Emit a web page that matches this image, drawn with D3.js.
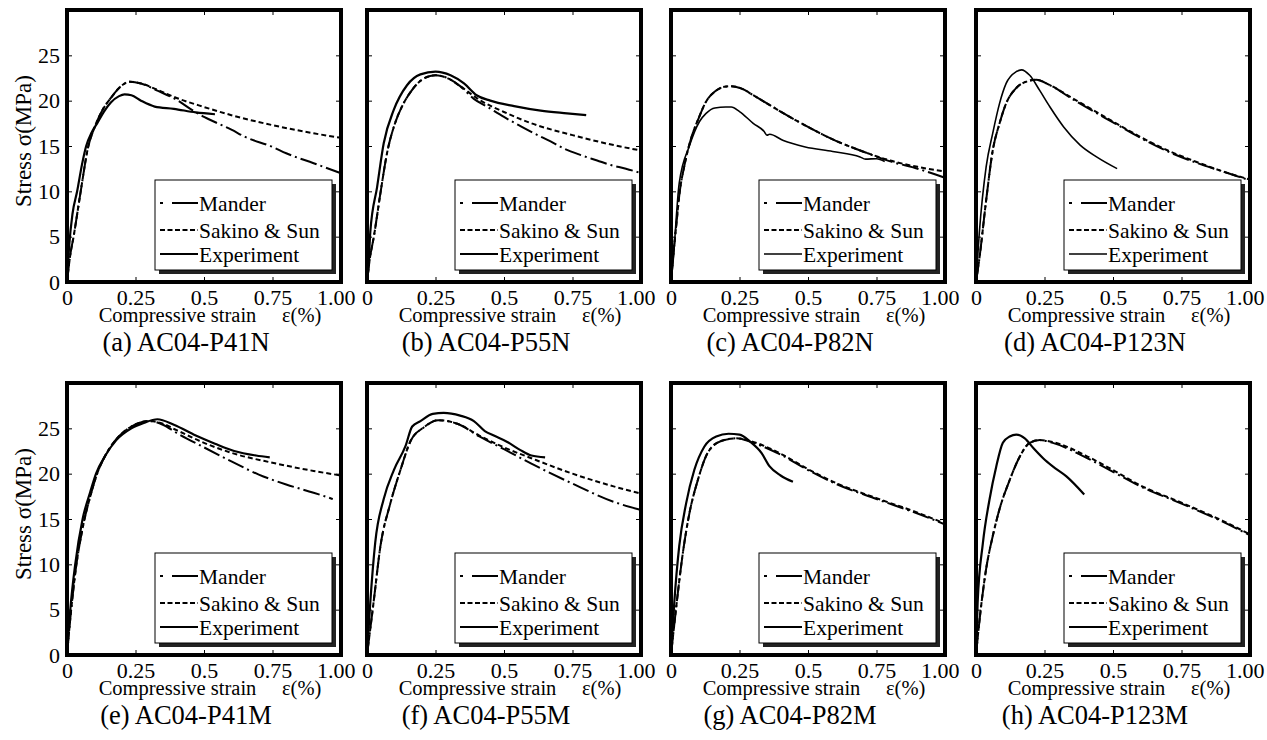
<!DOCTYPE html>
<html>
<head>
<meta charset="utf-8">
<script src="https://cdn.jsdelivr.net/npm/d3@7"></script>
<style>
  body { margin: 0; background: #fff; }
  text { font-family: "Liberation Serif", "Times New Roman", serif; fill: #000; }
</style>
</head>
<body>
<div id="chart"></div>
<script>
// strain (%) , stress (MPa) pairs
const expA = [[0,0],[0.008,4],[0.02,7.5],[0.037,10],[0.055,13],[0.07,15],[0.09,16.5],[0.11,17.5],[0.135,18.8],[0.16,19.8],[0.19,20.5],[0.21,20.7],[0.235,20.6],[0.27,20.0],[0.32,19.35],[0.39,19.1],[0.47,18.7],[0.54,18.5]];
const sakinoA = [[0,0],[0.012,3],[0.024,5],[0.05,10],[0.078,15],[0.1,17],[0.13,19],[0.16,20.3],[0.19,21.4],[0.23,22.1],[0.27,21.9],[0.33,21.2],[0.4,20.3],[0.5,19.3],[0.6,18.4],[0.75,17.3],[0.9,16.4],[1.0,15.9]];
const manderA = [[0,0],[0.012,3],[0.024,5],[0.05,10],[0.078,15],[0.1,17],[0.13,19],[0.16,20.3],[0.19,21.4],[0.23,22.1],[0.27,21.9],[0.33,21.1],[0.4,20.1],[0.45,19.1],[0.5,18.2],[0.55,17.5],[0.6,16.8],[0.65,16.0],[0.75,14.9],[0.8,14.2],[0.9,13.1],[1.0,12.0]];

const expB = [[0,0],[0.006,2],[0.012,5.5],[0.037,10.5],[0.061,15.3],[0.098,19],[0.146,21.7],[0.195,22.9],[0.25,23.2],[0.305,22.8],[0.354,21.9],[0.4,20.6],[0.45,20.0],[0.537,19.4],[0.634,18.9],[0.73,18.6],[0.8,18.4]];
const sakinoB = [[0,0],[0.01,2.5],[0.025,5],[0.05,10],[0.075,14.5],[0.1,17.3],[0.13,19.5],[0.16,21],[0.2,22.3],[0.25,22.8],[0.3,22.4],[0.34,21.6],[0.415,20.0],[0.5,18.75],[0.6,17.5],[0.75,16.2],[0.9,15.1],[1.0,14.5]];
const manderB = [[0,0],[0.01,2.5],[0.025,5],[0.05,10],[0.075,14.5],[0.1,17.3],[0.13,19.5],[0.16,21],[0.2,22.3],[0.25,22.8],[0.3,22.4],[0.34,21.6],[0.39,20.2],[0.44,19.3],[0.5,18.2],[0.56,17.2],[0.61,16.4],[0.67,15.5],[0.72,14.7],[0.78,14.0],[0.84,13.4],[0.89,12.9],[0.945,12.5],[1.0,12.0]];

const expC = [[0,0],[0.006,1.7],[0.03,10.9],[0.067,15],[0.104,17.7],[0.128,18.6],[0.16,19.2],[0.2,19.3],[0.22,19.3],[0.25,18.8],[0.3,17.5],[0.34,16.6],[0.35,16.2],[0.36,16.3],[0.41,15.6],[0.49,14.9],[0.59,14.4],[0.69,13.8],[0.71,13.55],[0.75,13.6],[0.78,13.3]];
const sakinoC = [[0,0],[0.01,3.5],[0.02,6.5],[0.03,9.5],[0.05,13],[0.075,16],[0.1,18],[0.13,20],[0.16,21],[0.19,21.5],[0.22,21.6],[0.26,21.3],[0.3,20.6],[0.4,18.8],[0.5,17.1],[0.6,15.6],[0.7,14.4],[0.8,13.4],[0.9,12.7],[1.0,12.2]];
const manderC = [[0,0],[0.01,3.5],[0.02,6.5],[0.03,9.5],[0.05,13],[0.075,16],[0.1,18],[0.13,20],[0.16,21],[0.19,21.5],[0.22,21.6],[0.26,21.3],[0.3,20.6],[0.4,18.8],[0.5,17.1],[0.6,15.6],[0.7,14.4],[0.8,13.3],[0.9,12.5],[1.0,11.5]];

const expD = [[0,0],[0.012,5.4],[0.037,12.7],[0.061,16.4],[0.086,19.7],[0.11,21.9],[0.147,23.2],[0.166,23.4],[0.196,22.8],[0.233,21.1],[0.27,19.3],[0.32,17.1],[0.38,15.1],[0.44,13.8],[0.515,12.5]];
const sakinoD = [[0,0],[0.012,2.5],[0.037,9],[0.061,14.5],[0.086,17.5],[0.11,19.7],[0.147,21.4],[0.184,22.1],[0.22,22.3],[0.27,21.7],[0.356,20.2],[0.5,17.7],[0.6,16.0],[0.7,14.5],[0.8,13.3],[0.9,12.2],[1.0,11.3]];
const manderD = [[0,0],[0.012,2.5],[0.037,9],[0.061,14.5],[0.086,17.5],[0.11,19.7],[0.147,21.4],[0.184,22.1],[0.22,22.3],[0.27,21.7],[0.356,20.1],[0.5,17.6],[0.6,15.9],[0.7,14.4],[0.8,13.2],[0.9,12.2],[1.0,11.2]];

const expE = [[0,0],[0.012,5],[0.03,10],[0.057,15],[0.085,18],[0.106,20],[0.14,22],[0.18,23.7],[0.235,25],[0.28,25.6],[0.33,26.0],[0.39,25.4],[0.47,24.2],[0.54,23.3],[0.61,22.5],[0.69,22.0],[0.74,21.8]];
const sakinoE = [[0,0],[0.012,4],[0.03,9],[0.057,14],[0.085,17.5],[0.11,20],[0.14,22],[0.18,23.8],[0.235,25.2],[0.3,25.8],[0.35,25.5],[0.4,24.8],[0.5,23.4],[0.6,22.3],[0.75,21.2],[0.9,20.3],[1.0,19.8]];
const manderE = [[0,0],[0.012,4],[0.03,9],[0.057,14],[0.085,17.5],[0.11,20],[0.14,22],[0.18,23.8],[0.235,25.2],[0.3,25.8],[0.35,25.4],[0.4,24.5],[0.5,22.9],[0.6,21.35],[0.7,19.9],[0.8,18.8],[0.9,17.9],[0.97,17.2]];

const expF = [[0,0],[0.012,5.8],[0.03,12.4],[0.061,17.2],[0.098,20.4],[0.14,23],[0.165,25.2],[0.195,25.8],[0.24,26.6],[0.28,26.7],[0.34,26.4],[0.39,25.8],[0.43,24.7],[0.463,24.2],[0.512,23.5],[0.56,22.6],[0.6,22.0],[0.65,21.8]];
const sakinoF = [[0,0],[0.024,5.8],[0.049,12],[0.085,16.7],[0.122,20.4],[0.159,23.6],[0.207,25.1],[0.26,25.9],[0.33,25.5],[0.41,24.2],[0.5,22.9],[0.6,21.7],[0.75,20.0],[0.9,18.6],[1.0,17.8]];
const manderF = [[0,0],[0.024,5.8],[0.049,12],[0.085,16.7],[0.122,20.4],[0.159,23.6],[0.207,25.1],[0.26,25.9],[0.33,25.5],[0.41,24.1],[0.5,22.7],[0.6,21.1],[0.75,18.9],[0.9,16.9],[1.0,16.0]];

const expG = [[0,0],[0.012,5.8],[0.03,12],[0.055,16.7],[0.085,20.4],[0.122,23],[0.165,24.1],[0.21,24.4],[0.25,24.3],[0.29,23.5],[0.33,22.3],[0.36,20.8],[0.4,19.8],[0.445,19.1]];
const sakinoG = [[0,0],[0.018,5],[0.043,11.2],[0.067,15.6],[0.098,19.3],[0.134,22.3],[0.183,23.6],[0.24,23.9],[0.3,23.5],[0.4,22.2],[0.5,20.5],[0.6,19.0],[0.75,17.3],[0.9,15.7],[1.0,14.5]];
const manderG = [[0,0],[0.018,5],[0.043,11.2],[0.067,15.6],[0.098,19.3],[0.134,22.3],[0.183,23.6],[0.24,23.9],[0.3,23.4],[0.4,22.1],[0.5,20.4],[0.6,18.9],[0.75,17.2],[0.9,15.6],[1.0,14.4]];

const expH = [[0,0],[0.006,5.8],[0.025,12.3],[0.049,17.1],[0.074,20.8],[0.098,23.4],[0.123,24.1],[0.147,24.3],[0.178,23.9],[0.21,22.8],[0.245,21.7],[0.28,20.8],[0.33,19.7],[0.395,17.7]];
const sakinoH = [[0,0],[0.012,3.6],[0.037,9.5],[0.061,13.1],[0.086,16.1],[0.123,19.3],[0.16,21.9],[0.196,23.4],[0.233,23.7],[0.28,23.5],[0.4,22.0],[0.5,20.4],[0.6,18.7],[0.75,16.8],[0.9,14.8],[1.0,13.3]];
const manderH = [[0,0],[0.012,3.6],[0.037,9.5],[0.061,13.1],[0.086,16.1],[0.123,19.3],[0.16,21.9],[0.196,23.4],[0.233,23.7],[0.28,23.4],[0.4,21.8],[0.5,20.2],[0.6,18.6],[0.75,16.7],[0.9,14.7],[1.0,13.2]];

const captions = ["(a) AC04-P41N", "(b) AC04-P55N", "(c) AC04-P82N", "(d) AC04-P123N",
                  "(e) AC04-P41M", "(f) AC04-P55M", "(g) AC04-P82M", "(h) AC04-P123M"];
const xTicks = [0, 0.25, 0.5, 0.75, 1.0];
const xTickLabels = ["0", "0.25", "0.5", "0.75", "1.00"];
const yTicks = [0, 5, 10, 15, 20, 25];
const legendNames = ["Mander", "Sakino & Sun", "Experiment"];

const panels = [
    { exp: expA, sakino: sakinoA, mander: manderA },
    { exp: expB, sakino: sakinoB, mander: manderB },
    { exp: expC, sakino: sakinoC, mander: manderC },
    { exp: expD, sakino: sakinoD, mander: manderD },
    { exp: expE, sakino: sakinoE, mander: manderE },
    { exp: expF, sakino: sakinoF, mander: manderF },
    { exp: expG, sakino: sakinoG, mander: manderG },
    { exp: expH, sakino: sakinoH, mander: manderH }
];

const colLeft = [67, 367, 671, 976];
const rowTop = [10, 383];
const plotW = 274;
const plotH = 272;

const svg = d3.select("#chart")
    .append("svg")
    .attr("width", 1267)
    .attr("height", 740);

const x = d3.scaleLinear().domain([0, 1]).range([0, plotW]);
const y = d3.scaleLinear().domain([0, 30]).range([plotH, 0]);

const line = d3.line()
    .x(d => x(d[0]))
    .y(d => y(d[1]))
    .curve(d3.curveMonotoneX);

const styles = {
    mander: { dash: "17,4,2,4", width: 2 },
    sakino: { dash: "5,3", width: 2 },
    exp: { dash: null, width: 2.2 }
};

panels.forEach((p, i) => {
    const col = i % 4;
    const row = Math.floor(i / 4);
    // the experiment curve is drawn thinner in (c) and (d)
    const expWidth = (i === 2 || i === 3) ? 1.6 : styles.exp.width;
    const g = svg.append("g")
        .attr("transform", `translate(${colLeft[col]},${rowTop[row]})`);

    // axes, ticks pointing inward on all four sides
    const bottom = g.append("g")
        .attr("transform", `translate(0,${plotH})`)
        .call(d3.axisBottom(x).tickValues(xTicks).tickFormat((d, k) => xTickLabels[k])
            .tickSizeInner(-5).tickSizeOuter(0).tickPadding(7));
    g.append("g")
        .call(d3.axisTop(x).tickValues(xTicks).tickFormat("").tickSizeInner(-5).tickSizeOuter(0));
    const left = g.append("g")
        .call(d3.axisLeft(y).tickValues(yTicks).tickFormat(col === 0 ? d3.format("d") : "")
            .tickSizeInner(-5).tickSizeOuter(0).tickPadding(7));
    g.append("g")
        .attr("transform", `translate(${plotW},0)`)
        .call(d3.axisRight(y).tickValues(yTicks).tickFormat("").tickSizeInner(-5).tickSizeOuter(0));

    g.selectAll(".domain").remove();
    g.selectAll(".tick line").attr("stroke", "#000").attr("stroke-width", 1);
    bottom.selectAll("text").style("font-size", "22px").attr("font-family", null);
    left.selectAll("text").style("font-size", "22px").attr("font-family", null);
    // last label sits a little left of its tick, as in the original
    bottom.selectAll(".tick text").filter(d => d === 1)
        .attr("text-anchor", "end")
        .attr("x", 14);

    // curves
    ["mander", "sakino", "exp"].forEach(key => {
        g.append("path")
            .datum(p[key])
            .attr("d", line)
            .attr("fill", "none")
            .attr("stroke", "#000")
            .attr("stroke-width", key === "exp" ? expWidth : styles[key].width)
            .attr("stroke-dasharray", styles[key].dash);
    });

    // frame
    g.append("rect")
        .attr("width", plotW)
        .attr("height", plotH)
        .attr("fill", "none")
        .attr("stroke", "#000")
        .attr("stroke-width", 4);

    // legend
    const lg = g.append("g").attr("transform", "translate(88,170)");
    lg.append("rect")
        .attr("x", 4).attr("y", 4)
        .attr("width", 177).attr("height", 90)
        .attr("fill", "#222");
    lg.append("rect")
        .attr("width", 177).attr("height", 90)
        .attr("fill", "#fff")
        .attr("stroke", "#000")
        .attr("stroke-width", 1);
    const rowsY = [23, 50, 74];
    const legendDash = ["3,9,26", "5,2.5", null];
    legendNames.forEach((name, k) => {
        lg.append("line")
            .attr("x1", 5).attr("x2", 43)
            .attr("y1", rowsY[k]).attr("y2", rowsY[k])
            .attr("stroke", "#000")
            .attr("stroke-width", k === 2 ? expWidth : 2.2)
            .attr("stroke-dasharray", legendDash[k]);
        lg.append("text")
            .attr("x", 44)
            .attr("y", rowsY[k])
            .attr("dy", "0.35em")
            .style("font-size", "21.5px")
            .text(name);
    });

    // x-axis title
    g.append("text")
        .attr("x", plotW / 2 + 6)
        .attr("y", plotH + 40)
        .attr("text-anchor", "middle")
        .style("font-size", "20.5px")
        .style("white-space", "pre")
        .text("Compressive strain     ε(%)");

    // caption
    g.append("text")
        .attr("x", plotW / 2 - 18)
        .attr("y", plotH + 69)
        .attr("text-anchor", "middle")
        .style("font-size", "26.5px")
        .text(captions[i]);

    // y-axis title on left column
    if (col === 0) {
        g.append("text")
            .attr("transform", "rotate(-90)")
            .attr("x", -(plotH / 2 - 5))
            .attr("y", -36)
            .attr("text-anchor", "middle")
            .style("font-size", "23px")
            .text("Stress σ(MPa)");
    }
});
</script>
</body>
</html>
